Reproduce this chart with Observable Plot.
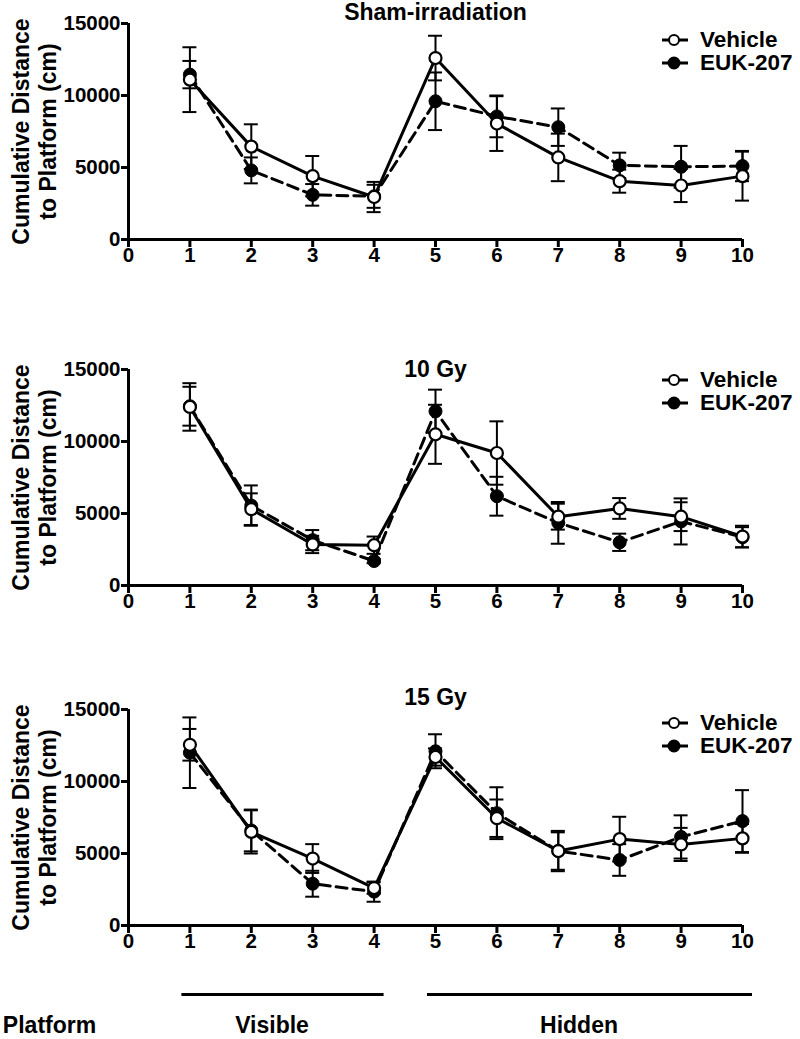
<!DOCTYPE html>
<html>
<head>
<meta charset="utf-8">
<script src="https://cdn.jsdelivr.net/npm/d3@7"></script>
<script src="https://cdn.jsdelivr.net/npm/@observablehq/plot@0.6"></script>
<style>
  html, body { margin: 0; padding: 0; background: #fff; }
  #root { position: relative; width: 800px; height: 1039px; overflow: hidden; font-family: "Liberation Sans", Arial, sans-serif; font-weight: bold; }
  .abs { position: absolute; }
  .legrow { position: absolute; left: 660px; height: 24px; display: flex; align-items: center; font-size: 22.5px; font-weight: bold; color: #000; white-space: nowrap; }
  .legrow svg { width: 30px; height: 20px; margin-right: 10px; flex: none; }
</style>
</head>
<body>
<div id="root"></div>
<script>
// ---- data ----
const days = [1, 2, 3, 4, 5, 6, 7, 8, 9, 10];
const xTicks = [0, 1, 2, 3, 4, 5, 6, 7, 8, 9, 10];
const yTicks = [0, 5000, 10000, 15000];
const seriesNames = ["Vehicle", "EUK-207"];
const panelTitles = ["Sham-irradiation", "10 Gy", "15 Gy"];

const shamVehicle    = [11100, 6450, 4400, 2950, 12600, 8050, 5700, 4050, 3750, 4400];
const shamVehicleSem = [2250, 1550, 1400, 1050, 1550, 1900, 1650, 800, 1150, 1700];
const shamEuk        = [11450, 4800, 3100, 3000, 9600, 8550, 7800, 5150, 5050, 5100];
const shamEukSem     = [950, 900, 750, 800, 2000, 1450, 1300, 880, 1450, 1050];

const gy10Vehicle    = [12400, 5300, 2850, 2800, 10500, 9200, 4780, 5350, 4780, 3400];
const gy10VehicleSem = [1650, 1100, 600, 600, 2050, 2200, 900, 720, 1000, 750];
const gy10Euk        = [12450, 5550, 3150, 1700, 12100, 6200, 4350, 3000, 4450, 3350];
const gy10EukSem     = [1350, 1400, 700, 150, 1500, 1350, 1450, 600, 1600, 700];

const gy15Vehicle    = [12550, 6500, 4650, 2600, 11700, 7450, 5170, 6000, 5630, 6050];
const gy15VehicleSem = [1100, 1500, 1000, 400, 600, 1300, 1300, 1550, 1150, 1000];
const gy15Euk        = [12000, 6600, 2900, 2350, 12100, 7800, 5170, 4550, 6150, 7250];
const gy15EukSem     = [2450, 1450, 900, 700, 1180, 1800, 1400, 1100, 1500, 2150];

const phaseNames = ["Visible", "Hidden"];
const phaseFrom  = [1, 5];
const phaseTo    = [4, 10];
const yLabel = "Cumulative Distance\nto Platform (cm)";
const bottomLabel = "Platform";

// ---- build ----
function rows(vals, sems) {
  return days.map((d, i) => ({day: d, mean: vals[i], sem: sems[i]}));
}
const panels = [
  {title: panelTitles[0], veh: rows(shamVehicle, shamVehicleSem), euk: rows(shamEuk, shamEukSem)},
  {title: panelTitles[1], veh: rows(gy10Vehicle, gy10VehicleSem), euk: rows(gy10Euk, gy10EukSem)},
  {title: panelTitles[2], veh: rows(gy15Vehicle, gy15VehicleSem), euk: rows(gy15Euk, gy15EukSem)}
];

const plotTops = [23, 369, 709];      // pixel y of the top of each plot frame
const titleDy = [-11, 0, -12];
const legendOffsets = [17, 11, 14];
const MT = 30, MB = 44, MH = 216, ML = 128, MR = 58;
const FONT = "'Liberation Sans', Arial, sans-serif";
const TICK_FS = 20.5;
const root = document.getElementById("root");

function errMarks(data) {
  return [
    Plot.ruleX(data, {x: "day", y1: d => d.mean - d.sem, y2: d => d.mean + d.sem, stroke: "black", strokeWidth: 2}),
    Plot.ruleY(data, {y: d => d.mean + d.sem, x1: "day", x2: "day", insetLeft: -7, insetRight: -7, stroke: "black", strokeWidth: 2}),
    Plot.ruleY(data, {y: d => d.mean - d.sem, x1: "day", x2: "day", insetLeft: -7, insetRight: -7, stroke: "black", strokeWidth: 2})
  ];
}

panels.forEach((p, k) => {
  const chart = Plot.plot({
    width: 800,
    height: MT + MH + MB,
    marginTop: MT, marginBottom: MB, marginLeft: ML, marginRight: MR,
    style: {fontFamily: FONT, fontWeight: "bold", fontSize: TICK_FS + "px", color: "black", background: "transparent", overflow: "visible"},
    x: {domain: [0, 10], ticks: xTicks, axis: null},
    y: {domain: [0, 15000], ticks: yTicks, axis: null},
    marks: [
      Plot.axisX({ticks: xTicks, tickSize: 8, tickPadding: 0, strokeWidth: 3, tickFormat: d => String(d), label: null, fontSize: TICK_FS, fontWeight: "bold"}),
      Plot.axisY({ticks: yTicks, tickSize: 7, tickPadding: 1, strokeWidth: 3, tickFormat: d => String(d), label: null, fontSize: TICK_FS, fontWeight: "bold"}),
      Plot.ruleX([0], {stroke: "black", strokeWidth: 3}),
      Plot.ruleY([0], {stroke: "black", strokeWidth: 3}),
      ...errMarks(p.euk),
      ...errMarks(p.veh),
      Plot.line(p.euk, {x: "day", y: "mean", stroke: "black", strokeWidth: 3, strokeDasharray: "11,6"}),
      Plot.line(p.veh, {x: "day", y: "mean", stroke: "black", strokeWidth: 3}),
      Plot.dot(p.euk, {x: "day", y: "mean", r: 6.5, fill: "black", stroke: "black", strokeWidth: 1}),
      Plot.dot(p.veh, {x: "day", y: "mean", r: 6, fill: "white", stroke: "black", strokeWidth: 2.2}),
      Plot.text([p.title], {frameAnchor: "top", lineAnchor: "middle", dy: titleDy[k], fontSize: 23, fontWeight: "bold", fill: "black"}),
      Plot.text([yLabel], {frameAnchor: "left", rotate: -90, dx: -95, lineAnchor: "middle", textAnchor: "middle", lineHeight: 1.17, fontSize: 23, fontWeight: "bold", fill: "black"})
    ]
  });
  chart.classList.add("abs");
  chart.style.left = "0px";
  chart.style.top = (plotTops[k] - MT) + "px";
  root.appendChild(chart);

  // legend
  seriesNames.forEach((name, j) => {
    const row = document.createElement("div");
    row.className = "legrow";
    row.style.top = (plotTops[k] + legendOffsets[k] + j * 23 - 12) + "px";
    const filled = j === 1;
    row.innerHTML = `<svg viewBox="0 0 30 20"><line x1="2" y1="10" x2="28" y2="10" stroke="black" stroke-width="3"/>` +
      `<circle cx="14" cy="10" r="${filled ? 5.5 : 5}" fill="${filled ? "black" : "white"}" stroke="black" stroke-width="2"/></svg><span>${name}</span>`;
    root.appendChild(row);
  });
});

// bottom platform annotation
const phases = phaseNames.map((n, i) => ({name: n, from: phaseFrom[i], to: phaseTo[i]}));
const bottom = Plot.plot({
  width: 800, height: 79,
  marginTop: 0, marginBottom: 0, marginLeft: ML, marginRight: MR,
  style: {fontFamily: FONT, fontWeight: "bold", fontSize: "23px", color: "black", background: "transparent", overflow: "visible"},
  x: {domain: [0, 10], axis: null},
  y: {domain: [0, 1], range: [34, 65], axis: null},
  marks: [
    Plot.ruleY(phases, {y: () => 0, x1: "from", x2: "to", insetLeft: -8, insetRight: -10, stroke: "black", strokeWidth: 3}),
    Plot.text(phases, {x: d => (d.from + d.to) / 2, y: () => 1, text: "name", dx: -10, fontSize: 23, fontWeight: "bold", fill: "black"}),
    Plot.text([bottomLabel], {frameAnchor: "left", dx: -79, dy: 65 - 39.5, textAnchor: "middle", fontSize: 23, fontWeight: "bold", fill: "black"})
  ]
});
bottom.classList.add("abs");
bottom.style.left = "0px";
bottom.style.top = "960px";
root.appendChild(bottom);
</script>
</body>
</html>
